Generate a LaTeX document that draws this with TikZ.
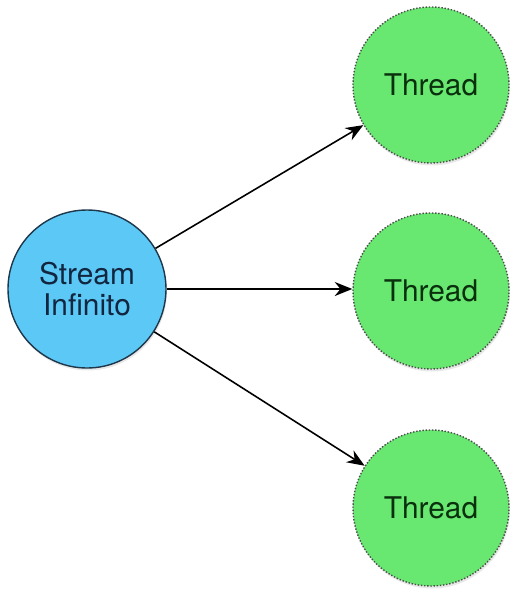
\documentclass[tikz,border=0pt]{standalone}
\usepackage{fontspec}
\setmainfont{TeX Gyre Heros}
\usetikzlibrary{arrows.meta, positioning, shadows}

\definecolor{streamblau}{RGB}{92,200,246}
\definecolor{threadgruen}{RGB}{104,232,112}
\definecolor{randblau}{RGB}{30,55,75}
\definecolor{textblau}{RGB}{18,38,64}
\definecolor{textgruen}{RGB}{10,48,14}

\begin{document}
\begin{tikzpicture}[
    quelle/.style={circle, draw=randblau, line width=0.8pt, fill=streamblau,
        minimum size=3.16cm, inner sep=0pt, align=center, text=textblau,
        font=\fontsize{17}{18}\selectfont,
        drop shadow={opacity=0.18, shadow xshift=0.02cm, shadow yshift=-0.05cm}},
    thread/.style={circle, draw=black!70, densely dotted, line width=0.8pt,
        fill=threadgruen, minimum size=3.12cm, inner sep=0pt, text=textgruen,
        font=\fontsize{17}{18}\selectfont,
        drop shadow={opacity=0.18, shadow xshift=0.02cm, shadow yshift=-0.05cm}},
    vec/.style={-{Stealth[length=10pt, width=8pt]}, line width=0.9pt}
]

% Rahmen
\useasboundingbox (0,0) rectangle (10.24,-11.86);

% Definiere Koordinaten
\coordinate (S) at (1.74, -5.78);
\coordinate (T1) at (8.62, -1.70);
\coordinate (T2) at (8.62, -5.82);
\coordinate (T3) at (8.62, -10.16);

% Zeichne Knoten
\node[quelle] (stream) at (S) {Stream\\Infinito};
\node[thread] (thread1) at (T1) {Thread};
\node[thread] (thread2) at (T2) {Thread};
\node[thread] (thread3) at (T3) {Thread};

% Zeichne Pfeile
\draw[vec] (stream) -- (thread1);
\draw[vec] (stream.east) -- (stream.east -| thread2.west);
\draw[vec] (stream) -- (thread3);

\end{tikzpicture}
\end{document}
